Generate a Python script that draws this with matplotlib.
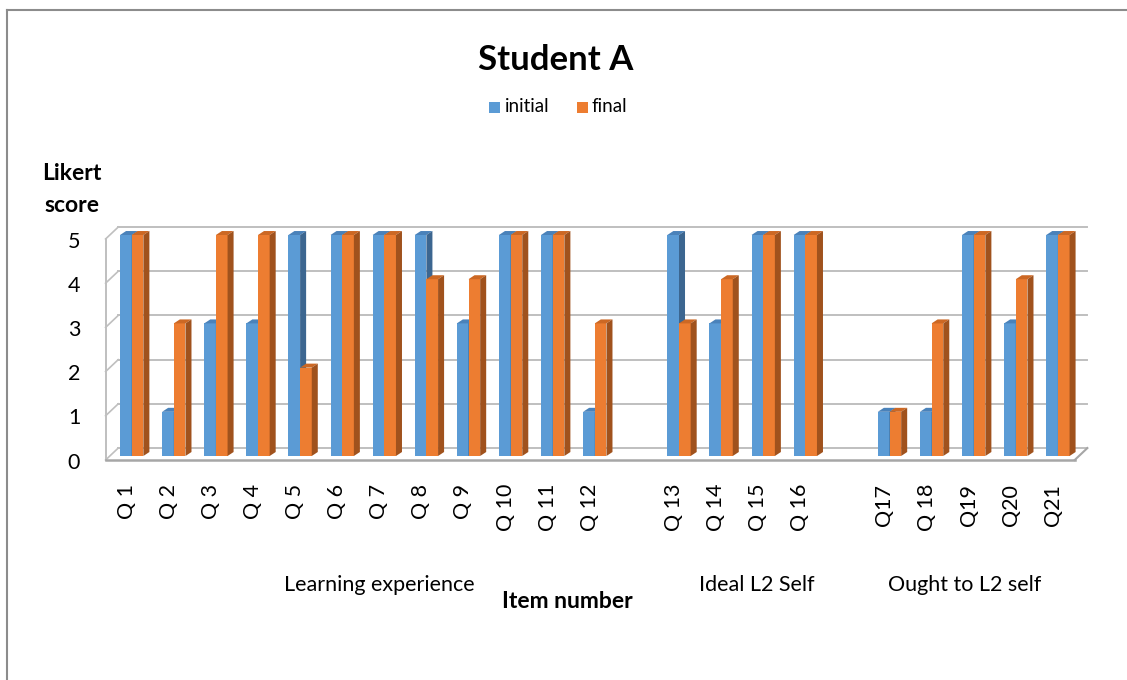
# -*- coding: utf-8 -*-
"""
Student A - Likert scores, initial vs final (Excel-style 3D column look)
"""

import numpy as np
import matplotlib.pyplot as plt
from matplotlib.patches import Rectangle, Polygon
from matplotlib.lines import Line2D

plt.rcParams['font.family'] = ['Lato', 'DejaVu Sans']

# ==========================================
# data
# ==========================================
ITEMS = ['Q 1', 'Q 2', 'Q 3', 'Q 4', 'Q 5', 'Q 6', 'Q 7', 'Q 8', 'Q 9', 'Q 10', 'Q 11', 'Q 12',
         'Q 13', 'Q 14', 'Q 15', 'Q 16',
         'Q17', 'Q 18', 'Q19', 'Q20', 'Q21']
INITIAL = [5, 1, 3, 3, 5, 5, 5, 5, 3, 5, 5, 1,
           5, 3, 5, 5,
           1, 1, 5, 3, 5]
FINAL = [5, 3, 5, 5, 2, 5, 5, 4, 4, 5, 5, 3,
         3, 4, 5, 5,
         1, 3, 5, 4, 5]
GROUPS = ['Learning experience', 'Ideal L2 Self', 'Ought to L2 self']
GROUP_SIZES = [12, 4, 5]
Y_TICKS = [0, 1, 2, 3, 4, 5]

# ==========================================
# style / geometry
# ==========================================
W, H = 1127, 680
BLUE = ('#5B9BD5', '#4A82BA', '#3C6690')     # front, top, side
ORANGE = ('#ED7D31', '#CC6824', '#A0521D')
GRID = '#BFBFBF'
BAR_W = 0.277
DX, DY = 0.143, 0.09       # bar depth offsets (data units)
WX, WY = 0.30, 0.27        # wall depth offsets
X_LEFT, X_RIGHT = -0.62, 22.40
FLOOR = -0.09


def fx(px):
    return px / W


def fy(py):
    return 1 - py / H


# slot positions, one empty slot between groups
positions = []
start = 0
for n in GROUP_SIZES:
    positions.extend(range(start, start + n))
    start += n + 1
positions = np.array(positions)

fig = plt.figure(figsize=(W / 100, H / 100), dpi=100)

# axes box chosen so that slot 0 sits at px 131.7, 42.1 px per slot, 44.2 px per unit
ax_l, ax_r, ax_t, ax_b = 60, 1110, 200, 470
ax = fig.add_axes([fx(ax_l), fy(ax_b), (ax_r - ax_l) / W, (ax_b - ax_t) / H])
ax.set_xlim((ax_l - 131.7) / 42.1, (ax_r - 131.7) / 42.1)
ax.set_ylim((456 - ax_b) / 44.2, (456 - ax_t) / 44.2)
ax.axis('off')

# back wall gridlines + left wall ticks
for k in Y_TICKS:
    ax.plot([X_LEFT + WX, X_RIGHT + WX], [k + FLOOR + WY, k + FLOOR + WY], color=GRID, lw=1.4, zorder=1)
    ax.plot([X_LEFT, X_LEFT + WX], [k + FLOOR, k + FLOOR + WY], color=GRID, lw=1.2, zorder=1)
    ax.text(X_LEFT - 0.75, k - 0.15, str(k), ha='center', va='center', fontsize=15.5, color='#000000')

# left wall front edge and floor
ax.plot([X_LEFT, X_LEFT], [FLOOR, Y_TICKS[-1] + FLOOR], color=GRID, lw=1.4, zorder=1)
ax.plot([X_LEFT, X_RIGHT], [FLOOR, FLOOR], color='#A6A6A6', lw=1.8, zorder=1)
ax.plot([X_RIGHT, X_RIGHT + WX], [FLOOR, FLOOR + WY], color='#A6A6A6', lw=1.5, zorder=1)


def bar3d(x0, v, colors, z):
    front, top, side = colors
    ax.add_patch(Rectangle((x0, 0), BAR_W, v, facecolor=front, lw=0, zorder=z))
    ax.add_patch(Polygon([(x0, v), (x0 + DX, v + DY), (x0 + BAR_W + DX, v + DY), (x0 + BAR_W, v)],
                         closed=True, facecolor=top, lw=0, zorder=z))
    ax.add_patch(Polygon([(x0 + BAR_W, 0), (x0 + BAR_W + DX, DY), (x0 + BAR_W + DX, v + DY), (x0 + BAR_W, v)],
                         closed=True, facecolor=side, lw=0, zorder=z))


for p, vi, vf in zip(positions, INITIAL, FINAL):
    bar3d(p - BAR_W, vi, BLUE, 3)
for p, vi, vf in zip(positions, INITIAL, FINAL):
    bar3d(p, vf, ORANGE, 4)

# category labels
for p, lab in zip(positions, ITEMS):
    ax.text(p - 0.12, -0.63, lab, rotation=90, ha='center', va='top', fontsize=15.5)

# ==========================================
# texts outside the axes
# ==========================================
fig.text(fx(556), fy(60), 'Student A', ha='center', va='center', fontsize=25, fontweight='bold')

# legend
fig.add_artist(Rectangle((fx(489), fy(113)), 11 / W, 11 / H, facecolor=BLUE[0], lw=0, transform=fig.transFigure))
fig.text(fx(505), fy(107), 'initial', ha='left', va='center', fontsize=13.5)
fig.add_artist(Rectangle((fx(577), fy(113)), 11 / W, 11 / H, facecolor=ORANGE[0], lw=0, transform=fig.transFigure))
fig.text(fx(592), fy(107), 'final', ha='left', va='center', fontsize=13.5)

fig.text(fx(72), fy(173), 'Likert', ha='center', va='center', fontsize=16.5, fontweight='bold')
fig.text(fx(72), fy(205), 'score', ha='center', va='center', fontsize=16.5, fontweight='bold')

group_x = [379, 757, 965]
for gx, g in zip(group_x, GROUPS):
    fig.text(fx(gx), fy(585), g, ha='center', va='center', fontsize=15.5)
fig.text(fx(567), fy(602), 'Item number', ha='center', va='center', fontsize=16.5, fontweight='bold')

# chart border (top and left visible)
fig.add_artist(Line2D([fx(7), fx(7)], [fy(10), 0], color='#8C8C8C', lw=1.5, transform=fig.transFigure))
fig.add_artist(Line2D([fx(7), 1], [fy(10), fy(10)], color='#8C8C8C', lw=1.5, transform=fig.transFigure))

fig.savefig('out.png', dpi=100)
